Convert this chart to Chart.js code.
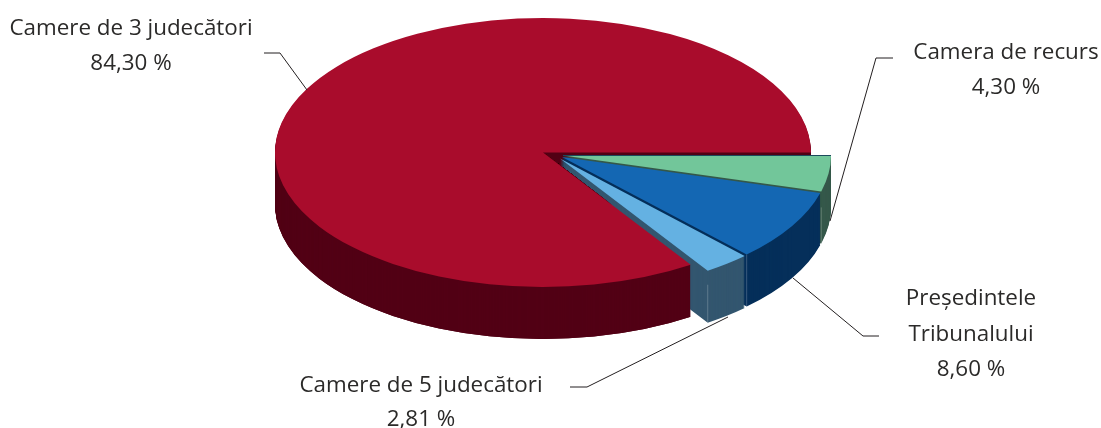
<!DOCTYPE html>
<html><head><meta charset="utf-8">
<style>html,body{margin:0;padding:0;background:#fff}canvas{display:block}</style>
<script src="https://cdn.jsdelivr.net/npm/chart.js@4"></script>
</head><body><canvas id="c" width="1101" height="428"></canvas>
<script>
const categories = ["Camera de recurs", "Președintele Tribunalului", "Camere de 5 judecători", "Camere de 3 judecători"];
const values = [4.30, 8.60, 2.81, 84.30];
const topColors = ["#72c69a", "#1467b3", "#64b1e2", "#a90c2c"];
const wallColors = ["#35584a", "#052f5a", "#33566f", "#520015"];
const explode = [[20, 3], [19, 4.5], [17, 6], [0, 0]];
const highlightFrom = [16, 0, 14];
const labelLines = [
  ["Camera de recurs", "4,30 %"],
  ["Președintele", "Tribunalului", "8,60 %"],
  ["Camere de 5 judecători", "2,81 %"],
  ["Camere de 3 judecători", "84,30 %"]
];
const labelPos = [[1006, 59, 35], [971, 305, 35.5], [421, 392, 34], [131, 35, 35]];
const leaders = [
  [[893, 58], [876, 58], [830, 221]],
  [[793, 278], [863, 336], [879, 336]],
  [[570, 387], [587, 387], [728, 317]],
  [[264, 53], [280, 53], [307, 90]]
];
const RX = 268, RY = 134.5, CX = 543, CY = 152.5, DEPTH = 52;
const FONT = '22.4px "Open Sans"';

const pie3d = {
  id: 'pie3d',
  beforeDatasetsDraw(chart) {
    const ctx = chart.ctx;
    const arcs = chart.getDatasetMeta(0).data;
    const R = arcs[0].outerRadius, sx = RX / R, sy = RY / R;
    const paint = (i, dy, color) => {
      const a = arcs[i], saved = a.options;
      a.options = Object.assign({}, saved, {backgroundColor: color, borderWidth: 0, offset: 0});
      ctx.save();
      ctx.translate(CX + explode[i][0], CY + explode[i][1] + dy);
      ctx.scale(sx, sy);
      ctx.translate(-a.x, -a.y);
      a.draw(ctx);
      ctx.restore();
      a.options = saved;
    };
    const stack = i => { for (let k = DEPTH; k >= 1; k--) paint(i, k, wallColors[i]); };
    const corner = (i, ang) => [CX + explode[i][0] + RX * Math.cos(ang), CY + explode[i][1] + RY * Math.sin(ang)];

    stack(3);
    stack(0); stack(1); stack(2);

    // the large slice's body hides the small slices' walls below its cut edge
    const rc = corner(3, arcs[3].startAngle);
    ctx.save();
    ctx.beginPath();
    ctx.moveTo(CX, CY);
    ctx.lineTo(rc[0], rc[1]);
    ctx.lineTo(rc[0], 428);
    ctx.lineTo(0, 428);
    ctx.lineTo(0, CY);
    ctx.closePath();
    ctx.clip();
    stack(3);
    ctx.restore();

    // lit vertical corners on the walls
    [0, 1, 2].forEach(i => {
      const p = corner(i, arcs[i].endAngle);
      ctx.save();
      ctx.strokeStyle = 'rgba(255,255,255,0.22)';
      ctx.lineWidth = 1;
      ctx.beginPath();
      ctx.moveTo(p[0], p[1] + highlightFrom[i]);
      ctx.lineTo(p[0], p[1] + DEPTH);
      ctx.stroke();
      ctx.restore();
    });

    paint(3, 0, topColors[3]);
    paint(0, 0, topColors[0]);
    paint(1, 0, topColors[1]);
    paint(2, 0, topColors[2]);

    // thin dark rim along the back edge of the first slice
    const g = corner(0, arcs[0].startAngle);
    ctx.save();
    ctx.strokeStyle = '#1d4a5c';
    ctx.lineWidth = 1;
    ctx.beginPath();
    ctx.moveTo(CX + explode[0][0], CY + explode[0][1]);
    ctx.lineTo(g[0], g[1]);
    ctx.stroke();
    ctx.restore();
    return false;
  },
  afterDraw(chart) {
    const ctx = chart.ctx;
    ctx.save();
    ctx.strokeStyle = '#231f20';
    ctx.lineWidth = 1;
    leaders.forEach(l => {
      ctx.beginPath();
      l.forEach((p, j) => j ? ctx.lineTo(p[0], p[1]) : ctx.moveTo(p[0], p[1]));
      ctx.stroke();
    });
    ctx.fillStyle = '#2b2a29';
    ctx.font = FONT;
    ctx.textAlign = 'center';
    ctx.textBaseline = 'alphabetic';
    labelLines.forEach((lines, i) => {
      lines.forEach((t, j) => ctx.fillText(t, labelPos[i][0], labelPos[i][1] + j * labelPos[i][2]));
    });
    ctx.restore();
  }
};

new Chart(document.getElementById('c'), {
  type: 'pie',
  data: { labels: categories, datasets: [{ data: values, backgroundColor: topColors, borderWidth: 0 }] },
  options: {
    responsive: false,
    animation: false,
    rotation: 90,
    plugins: { legend: { display: false }, tooltip: { enabled: false } }
  },
  plugins: [pie3d]
});
</script></body></html>
